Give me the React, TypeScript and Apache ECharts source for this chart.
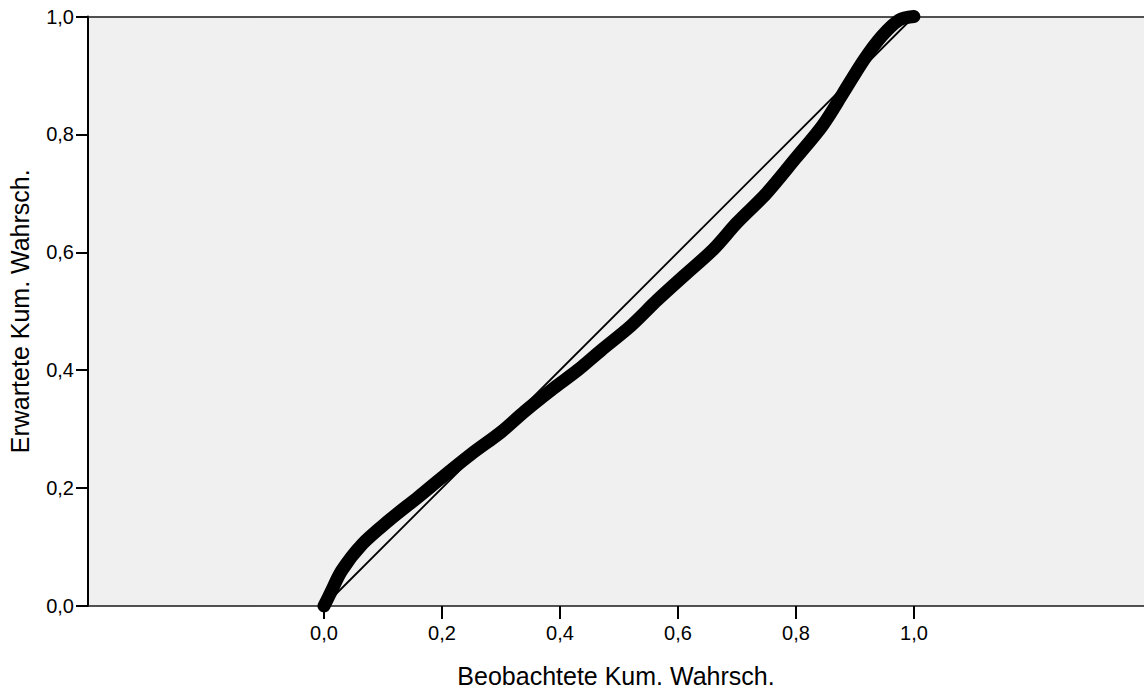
import React, { useEffect, useRef } from "react";
import * as echarts from "echarts";

const observed = [0.0, 0.01, 0.03, 0.065, 0.11, 0.16, 0.2, 0.25, 0.3, 0.34, 0.39, 0.43, 0.47, 0.52, 0.565, 0.61, 0.66, 0.7, 0.75, 0.8, 0.845, 0.88, 0.915, 0.945, 0.975, 1.0];
const expected = [0.0, 0.02, 0.06, 0.105, 0.145, 0.185, 0.218, 0.258, 0.295, 0.33, 0.37, 0.4, 0.434, 0.475, 0.519, 0.56, 0.605, 0.65, 0.7, 0.76, 0.815, 0.87, 0.926, 0.966, 0.994, 1.0];
const tickValues = [0, 0.2, 0.4, 0.6, 0.8, 1.0];
const diagonal = [[0, 0], [1, 1]];

const fmt = (v: number) => v.toFixed(1).replace(".", ",");

export default function App() {
  const ref = useRef<HTMLDivElement>(null);
  useEffect(() => {
    if (!ref.current) return;
    const chart = echarts.init(ref.current, null, { renderer: "svg" });
    const font = "'Liberation Sans', Arial, sans-serif";
    chart.setOption({
      animation: false,
      grid: {
        left: 88,
        top: 16.5,
        right: 0,
        bottom: 82,
        show: true,
        backgroundColor: "#f0f0f0",
        borderWidth: 0,
        containLabel: false,
        outerBoundsMode: "none",
      },
      xAxis: [
        {
          type: "value",
          min: -0.4,
          max: 1.39,
          interval: 0.2,
          splitLine: { show: false },
          axisLine: { show: true, onZero: false, lineStyle: { color: "#1a1a1a", width: 1.5 } },
          axisTick: { show: true, length: 13, customValues: tickValues, lineStyle: { color: "#000", width: 2 } },
          axisLabel: {
            customValues: tickValues,
            formatter: (v: number) => fmt(v),
            color: "#000",
            fontFamily: font,
            fontSize: 20,
            margin: 17,
          },
          name: "Beobachtete Kum. Wahrsch.",
          nameLocation: "middle",
          nameGap: 57,
          nameTextStyle: { color: "#000", fontFamily: font, fontSize: 25 },
        },
        {
          type: "value",
          position: "top",
          min: -0.4,
          max: 1.39,
          splitLine: { show: false },
          axisLine: { show: true, onZero: false, lineStyle: { color: "#1a1a1a", width: 1.5 } },
          axisTick: { show: false },
          axisLabel: { show: false },
        },
      ],
      yAxis: {
        type: "value",
        min: 0,
        max: 1,
        interval: 0.2,
        splitLine: { show: false },
        axisLine: { show: true, onZero: false, lineStyle: { color: "#000", width: 2 } },
        axisTick: { show: true, length: 12, lineStyle: { color: "#000", width: 2 } },
        axisLabel: {
          formatter: (v: number) => fmt(v),
          color: "#000",
          fontFamily: font,
          fontSize: 20,
          margin: 14,
        },
        name: "Erwartete Kum. Wahrsch.",
        nameLocation: "middle",
        nameGap: 56,
        nameTextStyle: { color: "#000", fontFamily: font, fontSize: 25 },
      },
      series: [
        {
          type: "line",
          data: diagonal,
          symbol: "none",
          lineStyle: { color: "#000", width: 1.8 },
          silent: true,
          z: 2,
        },
        {
          type: "line",
          data: observed.map((x, i) => [x, expected[i]]),
          symbol: "none",
          smooth: 0.3,
          clip: true,
          lineStyle: { color: "#000", width: 13, cap: "round", join: "round" },
          z: 3,
        },
      ],
    });
    return () => chart.dispose();
  }, []);
  return <div ref={ref} style={{ width: 1144, height: 688, position: "absolute", left: 0, top: 0 }} />;
}
